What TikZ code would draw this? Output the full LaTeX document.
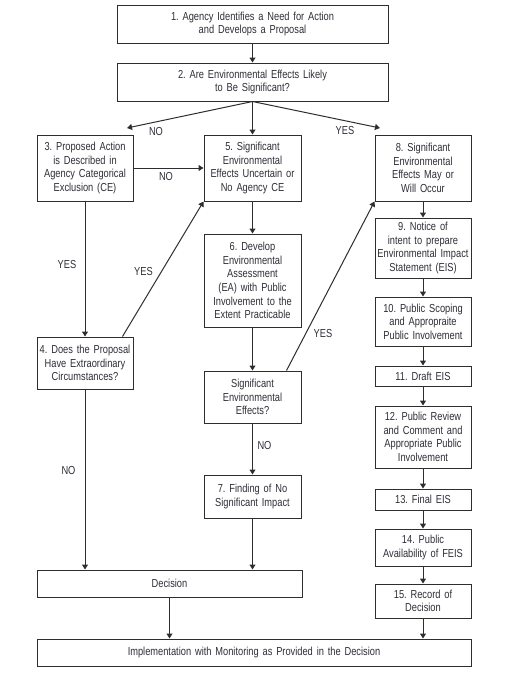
\documentclass[tikz,border=0pt]{standalone}
\usepackage{fontspec}
\setmainfont{Liberation Sans}[FakeStretch=0.8,WordSpace=0.8]
\usetikzlibrary{arrows.meta}
\definecolor{ink}{HTML}{2E2E38}
\definecolor{ln}{HTML}{2E2E2E}
\frenchspacing
\begin{document}
\begin{tikzpicture}[x=1pt,y=-1pt,
  every node/.style={font=\fontsize{11.6}{13.6}\selectfont, text=ink},
  box/.style={draw=ln, line width=1pt, inner sep=0pt, align=center, fill=white},
  arr/.style={draw=ln, line width=1pt, -{Triangle[width=6pt,length=5pt]}},
  lbl/.style={inner sep=0pt}]
\useasboundingbox[fill=white] (0,0) rectangle (507,675);
\node[box, minimum width=271pt, minimum height=38pt, text width=267pt] (b1) at (252.5,24) {1. Agency Identifies a Need for Action\\and Develops a Proposal};
\node[box, minimum width=271pt, minimum height=38pt, text width=267pt] (b2) at (252.5,82) {2. Are Environmental Effects Likely\\to Be Significant?};
\node[box, minimum width=96pt, minimum height=66pt, text width=95pt] (b3) at (85,168) {3. Proposed Action\\is Described in\\Agency Categorical\\Exclusion (CE)};
\node[box, minimum width=97pt, minimum height=66pt, text width=96pt] (b5) at (252.5,168) {5. Significant\\Environmental\\Effects Uncertain or\\No Agency CE};
\node[box, minimum width=96pt, minimum height=66pt, text width=95pt] (b8) at (423,168) {8. Significant\\Environmental\\Effects May or\\Will Occur};
\node[box, minimum width=97pt, minimum height=93pt, text width=96pt] (b6) at (252.5,280.5) {6. Develop\\Environmental\\Assessment\\(EA) with Public\\Involvement to the\\Extent Practicable};
\node[box, minimum width=96pt, minimum height=60pt, text width=96pt] (b9) at (423,248) {9. Notice of\\intent to prepare\\Environmental Impact\\Statement (EIS)};
\node[box, minimum width=96pt, minimum height=49pt, text width=95pt] (b10) at (423,321.5) {10. Public Scoping\\and Appropraite\\Public Involvement};
\node[box, minimum width=96pt, minimum height=52pt, text width=96pt] (b4) at (85,363) {4. Does the Proposal\\Have Extraordinary\\Circumstances?};
\node[box, minimum width=97pt, minimum height=52pt, text width=96pt] (sig) at (252.5,397) {Significant\\Environmental\\Effects?};
\node[box, minimum width=97pt, minimum height=43pt, text width=96pt] (b7) at (252.5,496.5) {7. Finding of No\\Significant Impact};
\node[box, minimum width=96pt, minimum height=20pt, text width=95pt] (b11) at (423,376) {11. Draft EIS};
\node[box, minimum width=96pt, minimum height=62pt, text width=95pt] (b12) at (423,437) {12. Public Review\\and Comment and\\Appropriate Public\\Involvement};
\node[box, minimum width=96pt, minimum height=21pt, text width=95pt] (b13) at (423,499.5) {13. Final EIS};
\node[box, minimum width=96pt, minimum height=37pt, text width=96pt] (b14) at (423,547.5) {14. Public\\Availability of FEIS};
\node[box, minimum width=96pt, minimum height=34pt, text width=95pt] (b15) at (423,601) {15. Record of\\Decision};
\node[box, minimum width=265pt, minimum height=27pt, text width=261pt] (dec) at (169.5,583.5) {Decision};
\node[box, minimum width=434pt, minimum height=27pt, text width=430pt] (imp) at (254,652.5) {Implementation with Monitoring as Provided in the Decision};
\coordinate (tNO) at (127,128);
\coordinate (tYES) at (380,128);
% connectors
\draw[arr] (b1) -- (b2);
\draw[arr] (b2.south) -- (tNO);
\draw[arr] (b2.south) -- (tYES);
\draw[arr] (b2) -- (b5);
\draw[arr] (b3) -- (b5);
\draw[arr] (b3) -- (b4);
\draw[arr] ([xshift=86pt]b4.north west) -- (b5.south west);
\draw[arr] (b5) -- (b6);
\draw[arr] (b6) -- (sig);
\draw[arr] ([xshift=83pt]sig.north west) -- (b8.south west);
\draw[arr] (sig) -- (b7);
\draw[arr] (b4) -- (b4 |- dec.north);
\draw[arr] (b7) -- (dec.north -| b7);
\draw[arr] (dec) -- (imp.north -| dec);
\draw[arr] (b8) -- (b9);
\draw[arr] (b9) -- (b10);
\draw[arr] (b10) -- (b11);
\draw[arr] (b11) -- (b12);
\draw[arr] (b12) -- (b13);
\draw[arr] (b13) -- (b14);
\draw[arr] (b14) -- (b15);
\draw[arr] (b15) -- (imp.north -| b15);
% labels
\node[lbl] (l1) at (156,131.5) {NO};
\node[lbl] (l2) at (345,131) {YES};
\node[lbl] (l3) at (166,176.5) {NO};
\node[lbl] (l4) at (67,265) {YES};
\node[lbl] (l5) at (143.5,271.5) {YES};
\node[lbl] (l6) at (323,334) {YES};
\node[lbl] (l7) at (264.5,445) {NO};
\node[lbl] (l8) at (68.5,470.5) {NO};
\end{tikzpicture}
\end{document}
